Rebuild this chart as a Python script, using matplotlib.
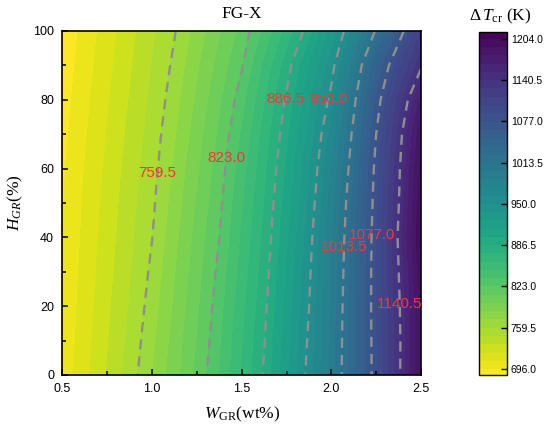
import numpy as np
import matplotlib
matplotlib.use("Agg")
import matplotlib.pyplot as plt

plt.rcParams['font.family'] = 'Liberation Sans'
plt.rcParams['mathtext.fontset'] = 'custom'
plt.rcParams['mathtext.rm'] = 'Liberation Serif'
plt.rcParams['mathtext.it'] = 'Liberation Serif:italic'
plt.rcParams['mathtext.bf'] = 'Liberation Serif:bold'

# W_GR (wt%) columns, H_GR (%) rows
w_gr = [0.5, 0.75, 0.875, 1.0, 1.125, 1.25, 1.375, 1.5, 1.625, 1.75,
        1.875, 2.0, 2.125, 2.25, 2.375, 2.5]
h_gr = [0, 10, 20, 30, 40, 50, 60, 70, 80, 90, 100]

# Delta T_cr (K), one row per H_GR value
dT_h0 = [700, 735, 752.6, 772, 792.4, 813, 836.1, 862, 888.4, 921.6, 955.5, 993.4, 1037.1, 1087, 1136.5, 1192]
dT_h10 = [699, 733, 750.1, 768.8, 789.5, 810.2, 833.1, 859.3, 885.5, 918.8, 952.8, 992.1, 1037, 1087.8, 1135.9, 1192]
dT_h20 = [698, 731.1, 747.7, 765.5, 786.5, 807.5, 830, 856.3, 882.7, 915.7, 949.7, 990.4, 1036.5, 1088.7, 1137.4, 1193]
dT_h30 = [697, 729.3, 745.5, 762.4, 783.5, 804.7, 826.6, 853.2, 879.7, 912.3, 946.9, 988.3, 1035.2, 1088.9, 1140.1, 1198]
dT_h40 = [696, 727.6, 743.4, 759.2, 780.4, 801.7, 823, 849.8, 876.6, 908.6, 943.6, 985.8, 1033.6, 1088.3, 1143, 1205]
dT_h50 = [695, 726, 741.4, 756.9, 777.2, 798.5, 819.8, 846.1, 873.4, 904.5, 939.2, 981.4, 1030.2, 1086, 1139.6, 1200]
dT_h60 = [694, 724.3, 739.5, 754.6, 773.9, 795.1, 816.2, 842, 870, 900.4, 934.5, 975.7, 1025.2, 1083, 1137, 1195]
dT_h70 = [692, 722.1, 737.1, 752.2, 770.2, 791.2, 812.1, 836.7, 865.3, 895, 928, 967.1, 1018.6, 1077, 1132.1, 1188]
dT_h80 = [690, 719.8, 734.7, 749.6, 766.4, 786.9, 807.4, 830, 859.3, 888.8, 921, 955.1, 1008.8, 1066.7, 1118.9, 1171]
dT_h90 = [688, 717.5, 732.2, 747, 762.5, 782.2, 802, 821.7, 850.5, 879.9, 911.2, 943.1, 993.5, 1049.8, 1097.5, 1137]
dT_h100 = [686, 715, 729.5, 744.1, 758.6, 777, 795.7, 814.5, 837.8, 865.1, 893.9, 927.9, 967.2, 1016.2, 1065.2, 1115]

cbar_ticks = [696.0, 759.5, 823.0, 886.5, 950.0, 1013.5, 1077.0, 1140.5, 1204.0]
line_levels = cbar_ticks[1:-1]

# label positions for the contour values
label_pos = [(1.04, 58.8), (1.434, 62.9), (1.751, 80.2), (1.996, 80.2),
             (2.083, 37.2), (2.219, 40.6), (2.362, 20.5)]

Z = np.array([dT_h0, dT_h10, dT_h20, dT_h30, dT_h40, dT_h50,
              dT_h60, dT_h70, dT_h80, dT_h90, dT_h100])
X, Y = np.meshgrid(w_gr, h_gr)

fig = plt.figure(figsize=(5.5, 4.29), dpi=100)
ax = fig.add_axes([0.1136, 0.1259, 0.6518, 0.8019])
cax = fig.add_axes([0.8709, 0.1259, 0.0504, 0.8002])

fill_levels = np.arange(683.3, 1217.0, 12.7)
cf = ax.contourf(X, Y, Z, levels=fill_levels, cmap='viridis_r',
                 vmin=686.8, vmax=1215)
cs = ax.contour(X, Y, Z, levels=line_levels, colors='#8f8f8f',
                linewidths=1.7, linestyles=[(0, (4.3, 3.0))])
txts = ax.clabel(cs, manual=label_pos, inline=False, fmt='%.1f',
                 colors='#ff3333', fontsize=11)
for t in txts:
    t.set_rotation(0)

ax.set_xlim(0.5, 2.5)
ax.set_ylim(0, 100)
ax.set_xticks([0.5, 1.0, 1.5, 2.0, 2.5])
ax.set_xticks([0.75, 1.25, 1.75, 2.25], minor=True)
ax.set_yticks([0, 20, 40, 60, 80, 100])
ax.set_yticks([10, 30, 50, 70, 90], minor=True)
ax.tick_params(which='both', direction='in', labelsize=9, width=1.1)
ax.tick_params(which='major', length=4.5, pad=6)
ax.tick_params(which='minor', length=3)
for s in ax.spines.values():
    s.set_linewidth(1.2)

ax.set_title('FG-X', fontfamily='Liberation Serif', fontsize=12.5, pad=9)
ax.set_xlabel(r'$W_{\mathrm{GR}}$(wt%)', fontfamily='Liberation Serif',
              fontsize=12.5, labelpad=7)
ax.set_ylabel(r'$H_{GR}$(%)', fontfamily='Liberation Serif',
              fontsize=12.5, labelpad=6)

cbar = fig.colorbar(cf, cax=cax, ticks=cbar_ticks)
cbar.ax.set_ylim(686.8, 1215)
cbar.ax.set_yticklabels(['%.1f' % v for v in cbar_ticks])
cbar.ax.tick_params(direction='in', length=4.5, width=1, labelsize=7.5, pad=3)
cbar.ax.minorticks_off()
cbar.outline.set_linewidth(1)
cbar.ax.set_title(r'$\Delta\, T_{\mathrm{cr}}$ (K)', fontfamily='Liberation Serif',
                  fontsize=12.5, pad=8, x=0.75)

fig.savefig('out.png', dpi=100)
